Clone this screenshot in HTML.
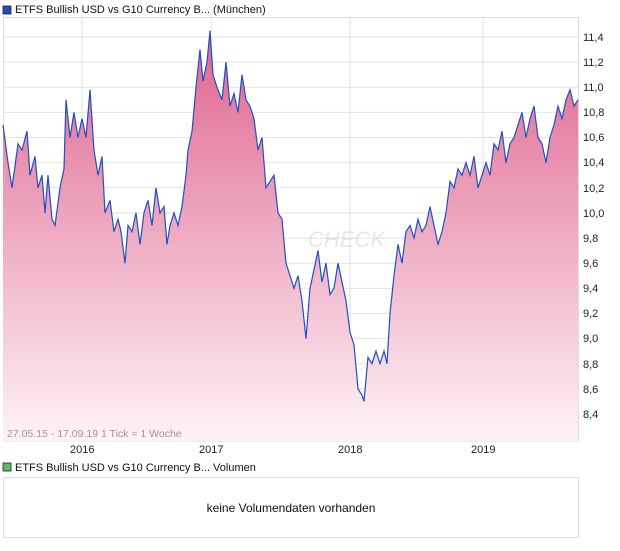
<!DOCTYPE html>
<html><head><meta charset="utf-8"><style>
body{margin:0;background:#fff;font-family:"Liberation Sans",sans-serif;}
</style></head><body>
<svg width="620" height="546" xmlns="http://www.w3.org/2000/svg" font-family="Liberation Sans, sans-serif" font-size="11">
<defs>
<linearGradient id="g" x1="0" y1="1" x2="0" y2="0">
<stop offset="0" stop-color="#e0648e"/>
<stop offset="1" stop-color="#fdf3f6"/>
</linearGradient>
</defs>
<rect x="3" y="6" width="8" height="8" fill="#1f4fb4" stroke="#222" stroke-width="0.8"/>
<text x="15" y="13" fill="#111">ETFS Bullish USD vs G10 Currency B... (München)</text>
<rect x="3.5" y="17.5" width="575" height="423.5" fill="none" stroke="#ddd"/>
<g stroke="#e2e2e2" stroke-width="1">
<line x1="82" y1="18" x2="82" y2="441"/><line x1="211" y1="18" x2="211" y2="441"/>
<line x1="350" y1="18" x2="350" y2="441"/><line x1="483" y1="18" x2="483" y2="441"/>
<line x1="3" y1="37" x2="578" y2="37"/><line x1="3" y1="62.1" x2="578" y2="62.1"/>
<line x1="3" y1="87.3" x2="578" y2="87.3"/><line x1="3" y1="112.4" x2="578" y2="112.4"/>
<line x1="3" y1="137.5" x2="578" y2="137.5"/><line x1="3" y1="162.7" x2="578" y2="162.7"/>
<line x1="3" y1="187.8" x2="578" y2="187.8"/><line x1="3" y1="213" x2="578" y2="213"/>
<line x1="3" y1="238.1" x2="578" y2="238.1"/><line x1="3" y1="263.2" x2="578" y2="263.2"/>
<line x1="3" y1="288.4" x2="578" y2="288.4"/><line x1="3" y1="313.5" x2="578" y2="313.5"/>
<line x1="3" y1="338.6" x2="578" y2="338.6"/><line x1="3" y1="363.8" x2="578" y2="363.8"/>
<line x1="3" y1="388.9" x2="578" y2="388.9"/><line x1="3" y1="414" x2="578" y2="414"/>
</g>
<g transform="matrix(1,0,0,-125.67,0,1469.6)">
<polygon fill="url(#g)" points="3,8.185 3,10.7 8,10.4 12,10.2 18,10.55 22,10.5 27,10.65 30,10.3 35,10.45 38,10.2 42,10.3 45,10.0 48,10.3 52,9.95 55,9.9 60,10.2 64,10.35 66,10.9 70,10.6 74,10.8 78,10.6 82,10.75 86,10.6 90,10.98 94,10.5 98,10.3 102,10.45 105,10.0 110,10.1 114,9.85 118,9.95 121,9.85 125,9.6 128,9.9 132,9.85 136,10.0 140,9.75 144,10.0 148,10.1 152,9.9 156,10.2 160,10.0 164,10.05 167,9.75 170,9.9 174,10.0 178,9.9 182,10.05 186,10.3 188,10.5 192,10.65 196,11.0 200,11.3 203,11.05 207,11.2 210,11.45 213,11.1 217,11.0 222,10.9 226,11.2 230,10.85 234,10.95 238,10.8 242,11.1 246,10.9 250,10.85 254,10.75 258,10.5 262,10.6 266,10.2 270,10.25 274,10.3 278,10.0 282,9.95 286,9.6 290,9.5 294,9.4 298,9.5 302,9.3 306,9.0 310,9.4 314,9.55 318,9.7 322,9.45 326,9.6 330,9.35 334,9.4 338,9.6 342,9.45 346,9.3 350,9.05 354,8.95 358,8.6 362,8.55 364,8.5 368,8.85 372,8.8 376,8.9 380,8.8 384,8.9 387,8.8 390,9.2 394,9.5 398,9.75 402,9.6 406,9.85 410,9.9 414,9.8 418,9.95 422,9.85 426,9.9 430,10.05 434,9.9 438,9.75 442,9.85 446,10.0 450,10.25 454,10.2 458,10.35 462,10.3 466,10.4 470,10.3 474,10.45 478,10.2 482,10.3 486,10.4 490,10.3 494,10.55 498,10.5 502,10.65 506,10.4 510,10.55 514,10.6 518,10.7 522,10.8 526,10.6 530,10.75 534,10.85 538,10.6 542,10.55 546,10.4 550,10.6 554,10.7 558,10.85 562,10.75 566,10.9 570,10.98 574,10.85 578,10.9 578,8.185"/>
<polyline fill="none" stroke="#1f4fc4" stroke-width="1.2" vector-effect="non-scaling-stroke" points="3,10.7 8,10.4 12,10.2 18,10.55 22,10.5 27,10.65 30,10.3 35,10.45 38,10.2 42,10.3 45,10.0 48,10.3 52,9.95 55,9.9 60,10.2 64,10.35 66,10.9 70,10.6 74,10.8 78,10.6 82,10.75 86,10.6 90,10.98 94,10.5 98,10.3 102,10.45 105,10.0 110,10.1 114,9.85 118,9.95 121,9.85 125,9.6 128,9.9 132,9.85 136,10.0 140,9.75 144,10.0 148,10.1 152,9.9 156,10.2 160,10.0 164,10.05 167,9.75 170,9.9 174,10.0 178,9.9 182,10.05 186,10.3 188,10.5 192,10.65 196,11.0 200,11.3 203,11.05 207,11.2 210,11.45 213,11.1 217,11.0 222,10.9 226,11.2 230,10.85 234,10.95 238,10.8 242,11.1 246,10.9 250,10.85 254,10.75 258,10.5 262,10.6 266,10.2 270,10.25 274,10.3 278,10.0 282,9.95 286,9.6 290,9.5 294,9.4 298,9.5 302,9.3 306,9.0 310,9.4 314,9.55 318,9.7 322,9.45 326,9.6 330,9.35 334,9.4 338,9.6 342,9.45 346,9.3 350,9.05 354,8.95 358,8.6 362,8.55 364,8.5 368,8.85 372,8.8 376,8.9 380,8.8 384,8.9 387,8.8 390,9.2 394,9.5 398,9.75 402,9.6 406,9.85 410,9.9 414,9.8 418,9.95 422,9.85 426,9.9 430,10.05 434,9.9 438,9.75 442,9.85 446,10.0 450,10.25 454,10.2 458,10.35 462,10.3 466,10.4 470,10.3 474,10.45 478,10.2 482,10.3 486,10.4 490,10.3 494,10.55 498,10.5 502,10.65 506,10.4 510,10.55 514,10.6 518,10.7 522,10.8 526,10.6 530,10.75 534,10.85 538,10.6 542,10.55 546,10.4 550,10.6 554,10.7 558,10.85 562,10.75 566,10.9 570,10.98 574,10.85 578,10.9"/>
</g>
<text x="308" y="247" font-size="22" font-style="italic" fill="#d8d8d8" opacity="0.6">CHECK</text>
<text x="7" y="437" fill="#999" font-size="10.5">27.05.15 - 17.09.19   1 Tick = 1 Woche</text>
<g fill="#222" font-size="11">
<text x="583" y="41">11,4</text><text x="583" y="66">11,2</text><text x="583" y="91">11,0</text>
<text x="583" y="116">10,8</text><text x="583" y="141">10,6</text><text x="583" y="166">10,4</text>
<text x="583" y="192">10,2</text><text x="583" y="217">10,0</text><text x="583" y="242">9,8</text>
<text x="583" y="267">9,6</text><text x="583" y="292">9,4</text><text x="583" y="317">9,2</text>
<text x="583" y="342">9,0</text><text x="583" y="368">8,8</text><text x="583" y="393">8,6</text>
<text x="583" y="418">8,4</text>
<text x="70" y="453">2016</text><text x="199" y="453">2017</text><text x="338" y="453">2018</text><text x="471" y="453">2019</text>
</g>
<rect x="3" y="463" width="8" height="8" fill="#5cc05c" stroke="#222" stroke-width="0.8"/>
<text x="15" y="471" fill="#111">ETFS Bullish USD vs G10 Currency B... Volumen</text>
<rect x="3.5" y="477.5" width="575" height="60" fill="none" stroke="#ddd"/>
<text x="291" y="512" text-anchor="middle" font-size="12" fill="#111">keine Volumendaten vorhanden</text>
</svg>
</body></html>
